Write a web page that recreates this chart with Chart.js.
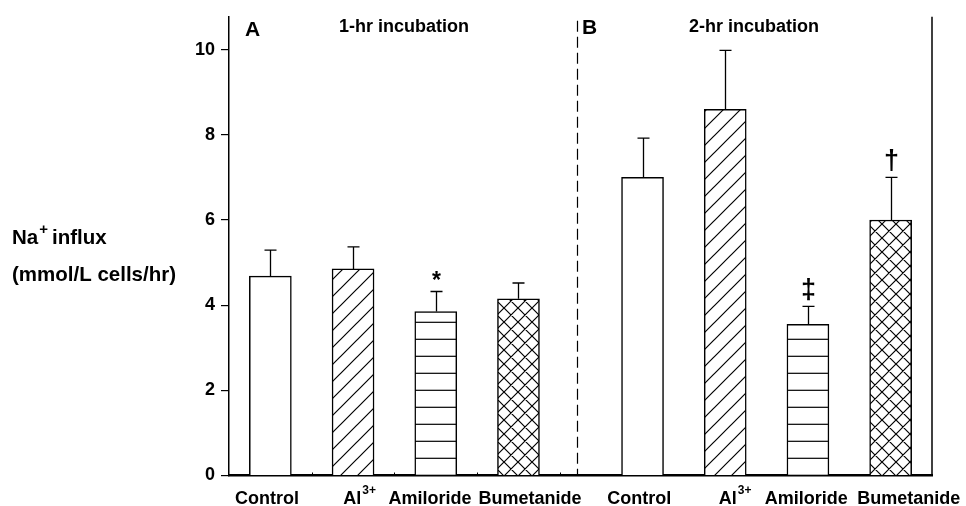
<!DOCTYPE html>
<html>
<head>
<meta charset="utf-8">
<script src="https://cdn.jsdelivr.net/npm/chart.js@4.4.1/dist/chart.umd.min.js"></script>
<style>
  html, body { margin: 0; padding: 0; background: #fff; }
</style>
</head>
<body>
<canvas id="influxChart" width="966" height="506"></canvas>
<script>
// Na+ influx, mean + SE, after 1-hr and 2-hr incubation
const treatments = ['Control', 'Al', 'Amiloride', 'Bumetanide'];
const oneHrMean = [4.68, 4.85, 3.85, 4.15];
const oneHrSE = [0.61, 0.52, 0.47, 0.37];
const twoHrMean = [7.0, 8.6, 3.55, 6.0];
const twoHrSE = [0.92, 1.38, 0.42, 1.0];
const oneHrMarks = ['', '', '*', ''];
const twoHrMarks = ['', '', '\u2021', '\u2020'];
const yTicks = [0, 2, 4, 6, 8, 10];

// slot positions on the x axis (half-slot gap between the two panels)
const oneHrSlots = [0.5, 1.5, 2.5, 3.5];
const twoHrSlots = [5, 6, 7, 8];
// label anchors, nudged so the long names don't collide
const labelSlots = [0.46, 1.49, 2.43, 3.64, 4.96, 6.03, 6.98, 8.22];
const panelSplit = 4.21;

const FONT = "'Liberation Sans', Arial, sans-serif";

function makePattern(size, draw) {
    const c = document.createElement('canvas');
    c.width = size; c.height = size;
    const g = c.getContext('2d');
    g.fillStyle = '#fff';
    g.fillRect(0, 0, size, size);
    g.strokeStyle = '#000';
    g.lineWidth = 1.2;
    draw(g, size);
    return document.getElementById('influxChart').getContext('2d').createPattern(c, 'repeat');
}

const diagFill = makePattern(17, function (g, s) {
    g.beginPath();
    g.moveTo(-2, s + 2); g.lineTo(s + 2, -2);
    g.moveTo(-2, 2); g.lineTo(2, -2);
    g.moveTo(s - 2, s + 2); g.lineTo(s + 2, s - 2);
    g.stroke();
});
const horizFill = makePattern(17, function (g, s) {
    g.beginPath();
    g.moveTo(0, 16.3); g.lineTo(s, 16.3);
    g.stroke();
});
const crossFill = makePattern(14, function (g, s) {
    g.beginPath();
    g.moveTo(-2, s + 2); g.lineTo(s + 2, -2);
    g.moveTo(-2, -2); g.lineTo(s + 2, s + 2);
    g.moveTo(-2, 2); g.lineTo(2, -2);
    g.moveTo(s - 2, s + 2); g.lineTo(s + 2, s - 2);
    g.moveTo(s - 2, -2); g.lineTo(s + 2, 2);
    g.moveTo(-2, s - 2); g.lineTo(2, s + 2);
    g.stroke();
});
const fills = ['#ffffff', diagFill, horizFill, crossFill];

const slots = oneHrSlots.concat(twoHrSlots);
const means = oneHrMean.concat(twoHrMean);
const errs = oneHrSE.concat(twoHrSE);
const marks = oneHrMarks.concat(twoHrMarks);
const points = slots.map(function (x, i) { return { x: x, y: means[i] }; });

function labelFor(value) {
    const i = labelSlots.indexOf(value);
    return i < 0 ? '' : treatments[i % treatments.length];
}

const decor = {
    id: 'decor',
    afterDatasetsDraw: function (chart) {
        const ctx = chart.ctx;
        const xs = chart.scales.x, ys = chart.scales.y;
        const area = chart.chartArea;
        ctx.save();
        ctx.strokeStyle = '#000';
        ctx.fillStyle = '#000';

        // upper error whiskers
        ctx.lineWidth = 1.3;
        slots.forEach(function (x, i) {
            const px = Math.round(xs.getPixelForValue(x)) + 0.5;
            const top = ys.getPixelForValue(means[i]);
            const hi = ys.getPixelForValue(means[i] + errs[i]);
            ctx.beginPath();
            ctx.moveTo(px, top); ctx.lineTo(px, hi);
            ctx.moveTo(px - 6, hi); ctx.lineTo(px + 6, hi);
            ctx.stroke();
            if (marks[i]) {
                ctx.textAlign = 'center';
                if (marks[i] === '*') {
                    ctx.font = 'bold 23px ' + FONT;
                    ctx.textBaseline = 'middle';
                    ctx.fillText('*', px, hi - 10);
                } else {
                    ctx.font = 'bold 27px ' + FONT;
                    ctx.textBaseline = 'alphabetic';
                    ctx.fillText(marks[i], px, hi - 8);
                }
            }
        });

        // dashed panel divider
        const dx = Math.round(xs.getPixelForValue(panelSplit)) + 0.5;
        ctx.lineWidth = 1.2;
        ctx.setLineDash([11, 5]);
        ctx.beginPath();
        ctx.moveTo(dx, area.top + 4); ctx.lineTo(dx, area.bottom);
        ctx.stroke();
        ctx.setLineDash([]);

        // right frame line
        ctx.lineWidth = 1.5;
        ctx.beginPath();
        ctx.moveTo(area.right, area.top); ctx.lineTo(area.right, area.bottom);
        ctx.stroke();

        // small inner ticks between the 1-hr bars
        ctx.lineWidth = 1;
        [1, 2, 3, 4].forEach(function (v) {
            const px = Math.round(xs.getPixelForValue(v)) + 0.5;
            ctx.beginPath();
            ctx.moveTo(px, area.bottom - 3); ctx.lineTo(px, area.bottom);
            ctx.stroke();
        });
        ctx.restore();
    },
    afterDraw: function (chart) {
        const ctx = chart.ctx;
        const xs = chart.scales.x;
        const area = chart.chartArea;
        ctx.save();
        ctx.fillStyle = '#000';
        ctx.textBaseline = 'middle';

        ctx.font = 'bold 21px ' + FONT;
        ctx.textAlign = 'left';
        ctx.fillText('A', 245, 30);
        ctx.fillText('B', 582, 28);

        ctx.font = 'bold 18px ' + FONT;
        ctx.textAlign = 'center';
        ctx.fillText('1-hr incubation', 404, 27);
        ctx.fillText('2-hr incubation', 754, 27);

        // "3+" superscript after each Al tick label
        ctx.font = 'bold 18px ' + FONT;
        const alHalf = ctx.measureText('Al').width / 2;
        ctx.font = 'bold 12px ' + FONT;
        ctx.textAlign = 'left';
        ctx.textBaseline = 'alphabetic';
        labelSlots.forEach(function (v, i) {
            if (treatments[i % treatments.length] !== 'Al') return;
            ctx.fillText('3+', xs.getPixelForValue(v) + alHalf + 1, area.bottom + 18);
        });

        // horizontal y-axis title with superscript
        ctx.textAlign = 'left';
        ctx.textBaseline = 'alphabetic';
        ctx.font = 'bold 20.5px ' + FONT;
        let x = 12;
        ctx.fillText('Na', x, 244);
        x += ctx.measureText('Na').width;
        ctx.font = 'bold 15px ' + FONT;
        ctx.fillText('+', x + 1, 234);
        x += ctx.measureText('+').width + 5;
        ctx.font = 'bold 20.5px ' + FONT;
        ctx.fillText('influx', x, 244);
        ctx.fillText('(mmol/L cells/hr)', 12, 281);
        ctx.restore();
    }
};

new Chart(document.getElementById('influxChart'), {
    type: 'bar',
    data: {
        datasets: [{
            data: points,
            backgroundColor: slots.map(function (x, i) { return fills[i % fills.length]; }),
            borderColor: '#000',
            borderWidth: 1.5,
            barThickness: 42
        }]
    },
    options: {
        responsive: false,
        animation: false,
        devicePixelRatio: 1,
        layout: { padding: { top: 13, right: 34, left: 0, bottom: 0 } },
        plugins: { legend: { display: false }, tooltip: { enabled: false } },
        scales: {
            x: {
                type: 'linear',
                min: 0,
                max: 8.5,
                offset: false,
                afterBuildTicks: function (s) { s.ticks = labelSlots.map(function (v) { return { value: v }; }); },
                afterFit: function (s) {
                    s.height = 30.5;
                    s.paddingLeft = 0;
                    s.paddingRight = 0;
                },
                grid: { display: true, drawOnChartArea: false, drawTicks: false, offset: false },
                border: { color: '#000', width: 2.5 },
                ticks: {
                    autoSkip: false,
                    maxRotation: 0,
                    padding: 13,
                    color: '#000',
                    font: { family: FONT, size: 18, weight: 'bold' },
                    callback: function (v) { return labelFor(v); }
                }
            },
            y: {
                min: 0,
                max: 10.77,
                afterBuildTicks: function (s) { s.ticks = yTicks.map(function (v) { return { value: v }; }); },
                afterFit: function (s) { s.width = 229; },
                grid: { drawOnChartArea: false, drawTicks: true, tickLength: 8, color: '#000', lineWidth: 1.2 },
                border: { color: '#000', width: 1.5 },
                ticks: {
                    padding: 6,
                    color: '#000',
                    font: { family: FONT, size: 18, weight: 'bold' }
                }
            }
        }
    },
    plugins: [decor]
});
</script>
</body>
</html>
